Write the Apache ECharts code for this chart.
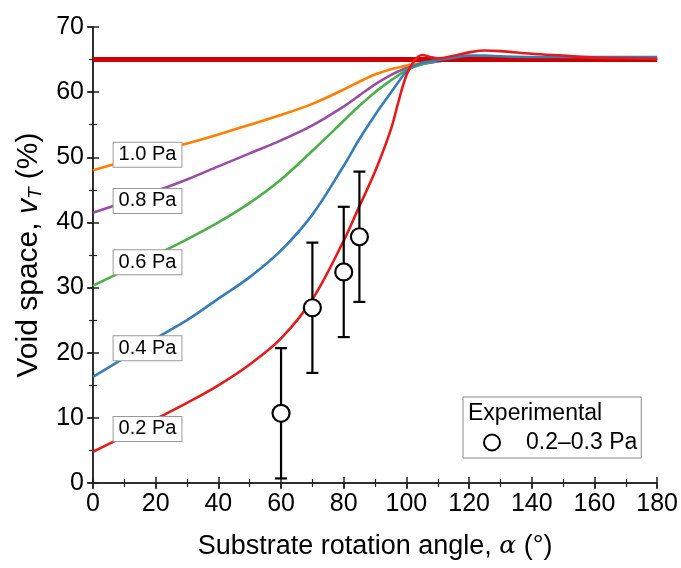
<!DOCTYPE html>
<html>
<head>
  <meta charset="UTF-8">
  <title>Void space vs rotation angle</title>
  <style>
    html, body { margin: 0; padding: 0; background: #fff; }
    #chart { width: 681px; height: 568px; }
  </style>
</head>
<body>
  <div id="chart"></div>
  <script src="https://cdn.jsdelivr.net/npm/echarts@6/dist/echarts.min.js"></script>
  <script>
  // angle grid for the simulated curves
  var angles = [0, 10, 20, 30, 40, 50, 60, 70, 80, 85, 90, 95, 97.5, 100, 102.5, 105, 107.5, 110, 115, 120, 125, 130, 140, 150, 160, 170, 180];
  // simulated void space (%) per pressure
  var v02 = [4.8, 7.2, 9.8, 12.3, 15, 18.2, 22.2, 28.2, 37.2, 42.5, 47.8, 54.2, 58.6, 62.6, 64.8, 65.7, 65.4, 65.2, 65.6, 66.1, 66.4, 66.3, 65.9, 65.6, 65.3, 65.2, 65.1];
  var v04 = [16.3, 19.2, 22.2, 25, 28.3, 31.6, 35.7, 41.2, 48.7, 52.8, 56.5, 59.9, 61.6, 63.2, 64, 64.5, 64.7, 64.9, 65.3, 65.6, 65.6, 65.5, 65.4, 65.4, 65.4, 65.4, 65.4];
  var v06 = [30.3, 32.6, 35, 37.4, 40, 43, 46.6, 51, 55.6, 57.9, 60, 61.8, 62.6, 63.4, 63.9, 64.3, 64.6, 64.8, 65, 65, 65, 65, 65, 65, 65, 65, 65];
  var v08 = [41.5, 43.1, 44.8, 46.6, 48.6, 50.6, 52.6, 54.9, 57.8, 59.5, 61.2, 62.6, 63.2, 63.7, 64, 64.3, 64.5, 64.7, 65, 65, 65, 65, 65, 65, 65, 65, 65];
  var v10 = [48, 49.4, 50.8, 52.1, 53.5, 55, 56.5, 58.2, 60.4, 61.6, 62.7, 63.5, 63.8, 64.1, 64.3, 64.5, 64.7, 64.8, 65, 65, 65, 65, 65, 65, 65, 65, 65];
  // limiting value (thick line)
  var limitV = 65;
  // experimental points
  var expAngle = [60, 70, 80, 85];
  var expV = [10.7, 26.9, 32.4, 37.8];
  var expErr = [10, 10, 10, 10];
  // curve labels
  var pressNames = ['0.2 Pa', '0.4 Pa', '0.6 Pa', '0.8 Pa', '1.0 Pa'];
  var labelAngle = 17.4;
  var labelV = [8.3, 20.7, 33.9, 43.3, 50.4];

  var FONT = 'Liberation Sans, Arial, sans-serif';
  var colors = ['#e41a1c', '#377eb8', '#4daf4a', '#984ea3', '#ff7f00'];
  var curves = [v02, v04, v06, v08, v10];

  function pairs(xs, ys) {
    return xs.map(function (x, i) { return [x, ys[i]]; });
  }

  var series = [];
  curves.forEach(function (ys, k) {
    series.push({
      name: pressNames[k],
      type: 'line',
      data: pairs(angles, ys),
      smooth: 0.35,
      showSymbol: false,
      lineStyle: { color: colors[k], width: 2.6 },
      z: 2 + (4 - k) * 0.1
    });
  });
  series.push({
    name: 'limit',
    type: 'line',
    data: [[0, limitV], [180, limitV]],
    showSymbol: false,
    lineStyle: { color: '#cc0000', width: 5 },
    z: 2.6
  });
  // red and blue tails sit just above the thick line
  series[1].z = 2.7;
  series[0].z = 2.8;

  series.push({
    name: 'errors',
    type: 'custom',
    data: expAngle.map(function (x, i) { return [x, expV[i], expErr[i]]; }),
    renderItem: function (params, api) {
      var x = api.value(0), y = api.value(1), e = api.value(2);
      var top = api.coord([x, y + e]);
      var bot = api.coord([x, y - e]);
      var st = { stroke: '#000', lineWidth: 2.2 };
      return {
        type: 'group',
        children: [
          { type: 'line', shape: { x1: top[0], y1: top[1], x2: bot[0], y2: bot[1] }, style: st },
          { type: 'line', shape: { x1: top[0] - 6, y1: top[1], x2: top[0] + 6, y2: top[1] }, style: st },
          { type: 'line', shape: { x1: bot[0] - 6, y1: bot[1], x2: bot[0] + 6, y2: bot[1] }, style: st }
        ]
      };
    },
    z: 4
  });
  series.push({
    name: '0.2\u20130.3 Pa',
    type: 'scatter',
    data: pairs(expAngle, expV),
    symbol: 'circle',
    symbolSize: 17,
    itemStyle: { color: '#fff', borderColor: '#000', borderWidth: 2.2, opacity: 1 },
    z: 5
  });
  series.push({
    name: 'labels',
    type: 'scatter',
    data: labelV.map(function (v, i) { return [labelAngle, v, pressNames[i]]; }),
    symbolSize: 1,
    itemStyle: { color: '#fff', opacity: 1 },
    label: {
      show: true,
      position: 'inside',
      formatter: function (p) { return p.value[2]; },
      fontFamily: FONT,
      fontSize: 20,
      color: '#000',
      opacity: 1,
      textBorderWidth: 0,
      backgroundColor: '#fff',
      borderColor: '#999',
      borderWidth: 1,
      padding: [2, 5, 1, 5],
      lineHeight: 21
    },
    emphasis: { disabled: true },
    z: 6,
    silent: true
  });

  var axisLine = { show: true, lineStyle: { color: '#222', width: 1.5 } };
  var noLabel = { show: false };
  var tickIn = { show: true, inside: true, length: 6, lineStyle: { color: '#222', width: 1.5 } };
  var minorIn = { show: true, splitNumber: 2, length: 4, lineStyle: { color: '#222', width: 1.2 } };

  var chart = echarts.init(document.getElementById('chart'));
  chart.setOption({
    backgroundColor: '#fff',
    animation: false,
    grid: { left: 93, right: 19, top: 27, bottom: 85, containLabel: false },
    legend: {
      data: ['0.2\u20130.3 Pa'],
      left: 463,
      top: 397,
      orient: 'vertical',
      padding: [34, 4, 4, 20],
      itemWidth: 30,
      itemHeight: 16,
      borderColor: '#888',
      borderWidth: 1,
      backgroundColor: '#fff',
      textStyle: { fontFamily: FONT, fontSize: 23, color: '#000', padding: [0, 0, 0, 14] }
    },
    graphic: [{
      type: 'text',
      left: 468,
      top: 402,
      z: 100,
      style: { text: 'Experimental', font: '23px ' + FONT, fill: '#000' }
    }],
    xAxis: [{
      type: 'value', min: 0, max: 180, interval: 20, position: 'bottom',
      axisLine: axisLine,
      axisTick: { show: true, inside: false, length: 5, lineStyle: { color: '#222', width: 1.5 } },
      axisLabel: { fontFamily: FONT, fontSize: 25, color: '#000', margin: 9 },
      splitLine: { show: false },
      name: '{n|Substrate rotation angle, }{i|\u03b1}{n| (\u00b0)}',
      nameLocation: 'middle',
      nameGap: 50,
      nameTextStyle: {
        rich: {
          n: { fontFamily: FONT, fontSize: 27, color: '#000' },
          i: { fontFamily: 'DejaVu Serif', fontStyle: 'italic', fontSize: 25, color: '#000' }
        }
      }
    }, {
      type: 'value', min: 0, max: 180, interval: 20, position: 'bottom',
      axisLine: { show: false }, axisTick: tickIn, minorTick: minorIn,
      axisLabel: noLabel, splitLine: { show: false }
    }, {
      type: 'value', min: 0, max: 180, interval: 20, position: 'top',
      axisLine: axisLine, axisTick: tickIn, minorTick: minorIn,
      axisLabel: noLabel, splitLine: { show: false }
    }],
    yAxis: [{
      type: 'value', min: 0, max: 70, interval: 10, position: 'left',
      axisLine: axisLine,
      axisTick: { show: true, inside: false, length: 5, lineStyle: { color: '#222', width: 1.5 } },
      axisLabel: { fontFamily: FONT, fontSize: 25, color: '#000', margin: 9 },
      splitLine: { show: false },
      name: '{n|Void space, }{i|v}{s|T}{n| (%)}',
      nameLocation: 'middle',
      nameRotate: 90,
      nameGap: 45,
      nameTextStyle: {
        rich: {
          n: { fontFamily: FONT, fontSize: 30, color: '#000' },
          i: { fontFamily: FONT, fontStyle: 'italic', fontSize: 30, color: '#000' },
          s: { fontFamily: FONT, fontStyle: 'italic', fontSize: 19, color: '#000', padding: [15, 0, 0, 0] }
        }
      }
    }, {
      type: 'value', min: 0, max: 70, interval: 10, position: 'left',
      axisLine: { show: false }, axisTick: tickIn, minorTick: minorIn,
      axisLabel: noLabel, splitLine: { show: false }
    }, {
      type: 'value', min: 0, max: 70, interval: 10, position: 'right',
      axisLine: axisLine, axisTick: tickIn, minorTick: minorIn,
      axisLabel: noLabel, splitLine: { show: false }
    }],
    series: series
  });
  </script>
</body>
</html>
